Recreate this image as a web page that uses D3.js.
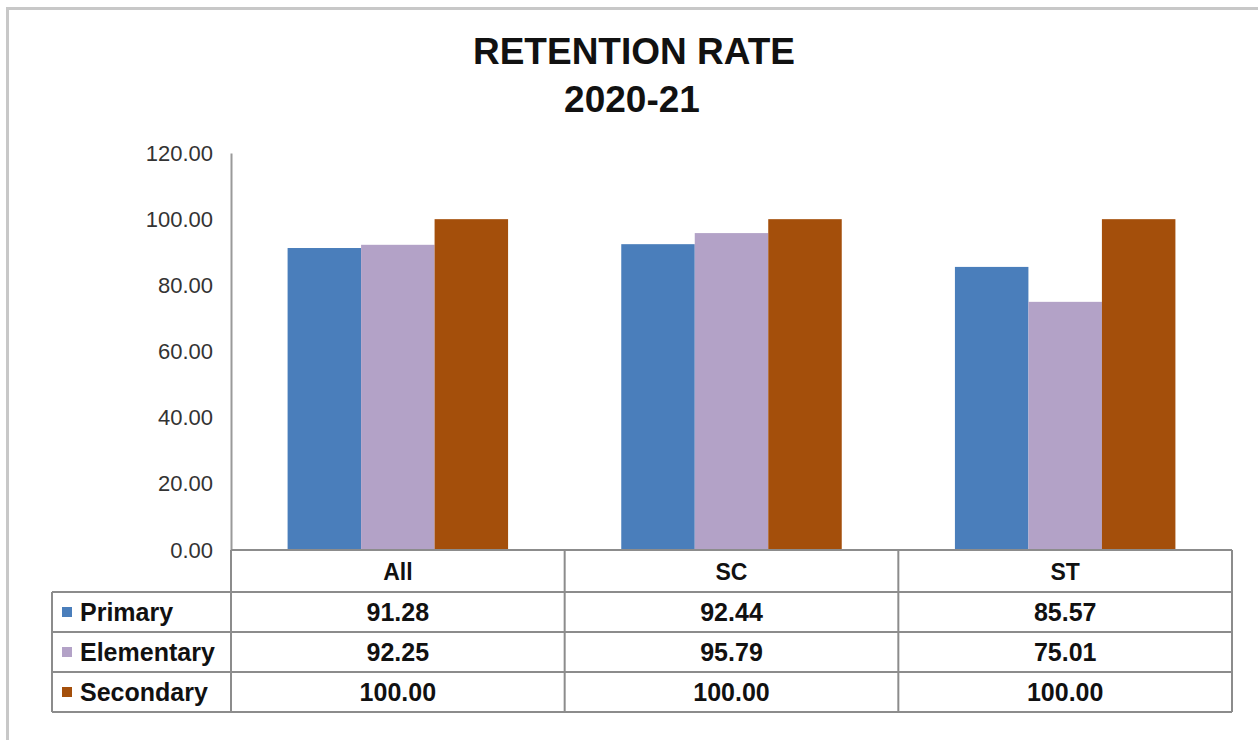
<!DOCTYPE html>
<html>
<head>
<meta charset="utf-8">
<script src="https://cdn.jsdelivr.net/npm/d3@7"></script>
<style>
body { margin: 0; background: #fff; }
svg { display: block; font-family: "Liberation Sans", Arial, sans-serif; }
</style>
</head>
<body>
<svg id="chart" width="1258" height="740"></svg>
<script>
let categories = ["All", "SC", "ST"]
let seriesNames = ["Primary", "Elementary", "Secondary"]
let primary = [91.28, 92.44, 85.57]
let elementary = [92.25, 95.79, 75.01]
let secondary = [100.00, 100.00, 100.00]
let yTicks = [0, 20, 40, 60, 80, 100, 120]
let colors = ["#4a7ebb", "#b3a2c7", "#a44f0b"]

let series = [primary, elementary, secondary]
let svg = d3.select('#chart')

// outer frame
svg.append('rect').attr('x', 7.5).attr('y', 8.5).attr('width', 1270).attr('height', 760)
	.attr('fill', 'none').attr('stroke', '#c8c8c8').attr('stroke-width', 3)

// title
svg.append('text').attr('x', 634).attr('y', 64).attr('text-anchor', 'middle')
	.style('font-size', '37px').style('font-weight', 'bold').attr('fill', '#111').text('RETENTION RATE')
svg.append('text').attr('x', 632).attr('y', 112).attr('text-anchor', 'middle')
	.style('font-size', '37px').style('font-weight', 'bold').attr('fill', '#111').text('2020-21')

let plotLeft = 231, plotRight = 1232, plotTop = 153, base = 550
let rowH = 40, legendLeft = 52

let x0 = d3.scaleBand().domain(categories).range([plotLeft, plotRight])
let x1 = d3.scaleBand().domain(seriesNames).range([0, x0.bandwidth()]).paddingOuter(0.77)
let y = d3.scaleLinear().domain([0, 120]).range([base, plotTop])

// y axis
let yAxis = svg.append('g').attr('transform', 'translate(' + plotLeft + ',0)')
	.call(d3.axisLeft(y).tickValues(yTicks).tickFormat(d3.format('.2f')).tickSize(0).tickPadding(18))
yAxis.select('.domain').attr('stroke', '#9a9a9a').attr('stroke-width', 2)
yAxis.selectAll('text').style('font-size', '22px').attr('fill', '#333').style('font-family', '"Liberation Sans", Arial, sans-serif')

// bars
let groups = svg.selectAll('g.cat').data(categories).enter().append('g')
	.attr('class', 'cat')
	.attr('transform', d => 'translate(' + x0(d) + ',0)')

groups.selectAll('rect').data((c, ci) => seriesNames.map((s, si) => ({ s: s, v: series[si][ci], i: si })))
	.enter().append('rect')
	.attr('x', d => x1(d.s))
	.attr('width', x1.bandwidth())
	.attr('y', d => y(d.v))
	.attr('height', d => base - y(d.v))
	.attr('fill', d => colors[d.i])

// data table
let tableBottom = base + rowH + seriesNames.length * rowH + 2
let lines = svg.append('g').attr('stroke', '#8c8c8c').attr('stroke-width', 2)
// horizontal lines
lines.append('line').attr('x1', plotLeft).attr('x2', plotRight).attr('y1', base).attr('y2', base)
d3.range(seriesNames.length + 1).forEach(i => {
	let yy = base + rowH + 2 + i * rowH
	lines.append('line').attr('x1', legendLeft).attr('x2', plotRight).attr('y1', yy).attr('y2', yy)
})
// vertical lines
categories.concat(['end']).forEach((c, i) => {
	let xx = i < categories.length ? x0(c) : plotRight
	lines.append('line').attr('x1', xx).attr('x2', xx).attr('y1', base).attr('y2', tableBottom)
})
lines.append('line').attr('x1', legendLeft).attr('x2', legendLeft).attr('y1', base + rowH + 2).attr('y2', tableBottom)

// header labels
svg.selectAll('text.cat').data(categories).enter().append('text')
	.attr('class', 'cat')
	.attr('x', d => x0(d) + x0.bandwidth() / 2)
	.attr('y', base + 30)
	.attr('text-anchor', 'middle')
	.style('font-size', '23px').style('font-weight', 'bold').attr('fill', '#111')
	.text(d => d)

// legend rows + values
seriesNames.forEach((s, si) => {
	let rowTop = base + rowH + 2 + si * rowH
	svg.append('rect').attr('x', 62).attr('y', rowTop + 15).attr('width', 10).attr('height', 10).attr('fill', colors[si])
	svg.append('text').attr('x', 80).attr('y', rowTop + 29)
		.style('font-size', '25px').style('font-weight', 'bold').attr('fill', '#111').text(s)
	categories.forEach((c, ci) => {
		svg.append('text').attr('x', x0(c) + x0.bandwidth() / 2).attr('y', rowTop + 29)
			.attr('text-anchor', 'middle')
			.style('font-size', '25px').style('font-weight', 'bold').attr('fill', '#111')
			.text(series[si][ci].toFixed(2))
	})
})
</script>
</body>
</html>
